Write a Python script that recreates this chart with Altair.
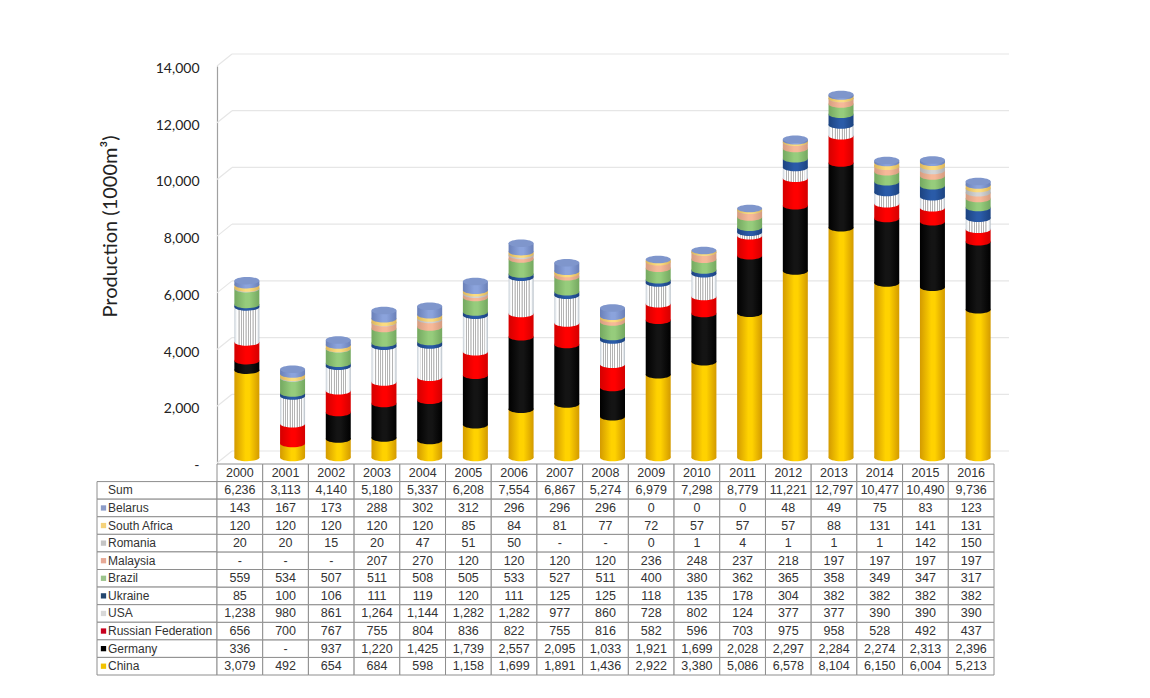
import altair as alt
import pandas as pd

years = [str(y) for y in range(2000, 2017)]
china = [3079, 492, 654, 684, 598, 1158, 1699, 1891, 1436, 2922, 3380, 5086, 6578, 8104, 6150, 6004, 5213]
germany = [336, None, 937, 1220, 1425, 1739, 2557, 2095, 1033, 1921, 1699, 2028, 2297, 2284, 2274, 2313, 2396]
russia = [656, 700, 767, 755, 804, 836, 822, 755, 816, 582, 596, 703, 975, 958, 528, 492, 437]
usa = [1238, 980, 861, 1264, 1144, 1282, 1282, 977, 860, 728, 802, 124, 377, 377, 390, 390, 390]
ukraine = [85, 100, 106, 111, 119, 120, 111, 125, 125, 118, 135, 178, 304, 382, 382, 382, 382]
brazil = [559, 534, 507, 511, 508, 505, 533, 527, 511, 400, 380, 362, 365, 358, 349, 347, 317]
malaysia = [None, None, None, 207, 270, 120, 120, 120, 120, 236, 248, 237, 218, 197, 197, 197, 197]
romania = [20, 20, 15, 20, 47, 51, 50, None, None, 0, 1, 4, 1, 1, 1, 142, 150]
south_africa = [120, 120, 120, 120, 120, 85, 84, 81, 77, 72, 57, 57, 57, 88, 131, 141, 131]
belarus = [143, 167, 173, 288, 302, 312, 296, 296, 296, 0, 0, 0, 48, 49, 75, 83, 123]
totals = [6236, 3113, 4140, 5180, 5337, 6208, 7554, 6867, 5274, 6979, 7298, 8779, 11221, 12797, 10477, 10490, 9736]

stack_order = ["China", "Germany", "Russian Federation", "USA", "Ukraine", "Brazil",
               "Malaysia", "Romania", "South Africa", "Belarus"]
series = dict(zip(stack_order, [china, germany, russia, usa, ukraine, brazil,
                                malaysia, romania, south_africa, belarus]))
# edge colour, centre colour
shades = {
    "China": ("#d39a00", "#ffd200"),
    "Germany": ("#000000", "#141414"),
    "Russian Federation": ("#d40000", "#ff0000"),
    "USA": ("#b8b8b8", "#ffffff"),
    "Ukraine": ("#1c4380", "#2a5ba8"),
    "Brazil": ("#74a860", "#96cc7c"),
    "Malaysia": ("#d59c80", "#f6b898"),
    "Romania": ("#b0b0b0", "#d4d4d4"),
    "South Africa": ("#dcb55a", "#fbdc80"),
    "Belarus": ("#6a80b8", "#8ba3dc"),
}
swatches = {"China": "#f2c200", "Germany": "#000000", "Russian Federation": "#c8001e", "USA": "#d8d8d8",
            "Ukraine": "#23466e", "Brazil": "#9bc48c", "Malaysia": "#e6a996", "Romania": "#c4c4c4",
            "South Africa": "#f5d27a", "Belarus": "#8c9cc8"}

ELLIPSE = "M -1 0 A 1 0.3 0 1 0 1 0 A 1 0.3 0 1 0 -1 0 Z"
BAR_W = 25
DX, DY = 7, -5.5
W, H = 777, 397


def cyl(edge, mid):
    return alt.Gradient(gradient="linear", x1=0, x2=1, y1=0, y2=0, stops=[
        alt.GradientStop(color=edge, offset=0), alt.GradientStop(color=mid, offset=0.45),
        alt.GradientStop(color=mid, offset=0.6), alt.GradientStop(color=edge, offset=1)])


def stripes():
    stops = [alt.GradientStop(color="#c3ccd4", offset=0), alt.GradientStop(color="#f4f6f8", offset=0.08)]
    n = 12
    for i in range(1, n):
        a = 0.08 + 0.84 * i / n
        stops += [alt.GradientStop(color="#ffffff", offset=a - 0.02), alt.GradientStop(color="#b4b4b4", offset=a - 0.012),
                  alt.GradientStop(color="#b4b4b4", offset=a + 0.012), alt.GradientStop(color="#ffffff", offset=a + 0.02)]
    stops += [alt.GradientStop(color="#f4f6f8", offset=0.92), alt.GradientStop(color="#b0bac3", offset=1)]
    return alt.Gradient(gradient="linear", x1=0, x2=1, y1=0, y2=0, stops=stops)


xs = alt.X("year:N", scale=alt.Scale(domain=years, paddingInner=0, paddingOuter=0), axis=None)
yscale = alt.Scale(domain=[0, 14000], nice=False)

layers = []
# wall grid
ticks = pd.DataFrame({"v": list(range(0, 14001, 2000))})
grid = "#e6e6e6"
layers.append(alt.Chart(ticks).mark_rule(color=grid, strokeWidth=1.2, yOffset=-12, y2Offset=-12).encode(
    x=alt.value(15), x2=alt.value(W + 15),
    y=alt.Y("v:Q", scale=yscale, axis=alt.Axis(
        title="Production (1000m³)", titleFont="Lato", titleFontSize=20, titleFontWeight="normal", titleColor="#222",
        titleX=-97, titleY=160, labelFont="Lato", labelFontSize=14, labelColor="#222", labelPadding=18,
        labelOffset=2.5, tickSize=0, grid=False, domainColor="#a0a0a0", domainWidth=1.2,
        values=list(range(0, 14001, 2000)),
        labelExpr="datum.value === 0 ? '-' : format(datum.value, ',')"))))
layers.append(alt.Chart(ticks).mark_rule(color=grid, strokeWidth=1.2, y2Offset=-12).encode(
    x=alt.value(0), x2=alt.value(15), y=alt.Y("v:Q", scale=yscale), y2="v:Q"))

base = [0] * len(years)
for name in stack_order:
    vals = [v or 0 for v in series[name]]
    top = [b + v for b, v in zip(base, vals)]
    df = pd.DataFrame({"year": years, "y0": base, "y1": top, "v": vals})
    df = df[df.v > 0]
    fill = stripes() if name == "USA" else cyl(*shades[name])
    layers.append(alt.Chart(df).mark_bar(fill=fill, size=BAR_W, xOffset=DX, x2Offset=DX,
                                         yOffset=DY, y2Offset=DY).encode(
        x=xs, y=alt.Y("y0:Q", scale=yscale), y2="y1:Q"))
    layers.append(alt.Chart(df).mark_point(shape=ELLIPSE, filled=True, fill=fill, opacity=1, strokeWidth=0,
                                           size=BAR_W ** 2, xOffset=DX, yOffset=DY).encode(
        x=xs, y=alt.Y("y0:Q", scale=yscale)))
    base = top

caps = pd.DataFrame({"year": years, "y1": base})
layers.append(alt.Chart(caps).mark_point(shape=ELLIPSE, filled=True, fill="#7f96cc", opacity=1, strokeWidth=0,
                                         size=BAR_W ** 2, xOffset=DX, yOffset=DY).encode(
    x=xs, y=alt.Y("y1:Q", scale=yscale)))

main = alt.layer(*layers).properties(width=W, height=H)

# table
row_order = ["header", "Sum"] + stack_order[::-1]
cells = []
for i, y in enumerate(years):
    cells.append({"year": y, "row": "header", "t": y})
    cells.append({"year": y, "row": "Sum", "t": f"{totals[i]:,}"})
    for name in stack_order:
        v = series[name][i]
        cells.append({"year": y, "row": name, "t": "-" if v is None else f"{v:,}"})
cells = pd.DataFrame(cells)
heads = pd.DataFrame({"row": row_order[1:], "label": row_order[1:]})
swatch_df = pd.DataFrame({"row": stack_order, "c": [swatches[n] for n in stack_order]})

line = "#8e8e8e"
txs = alt.X("year:N", scale=alt.Scale(domain=years, paddingInner=0, paddingOuter=0), axis=None)
tys = alt.Y("row:N", scale=alt.Scale(domain=row_order, paddingInner=0, paddingOuter=0), axis=None)
TF = "Liberation Sans"
table = alt.layer(
    alt.Chart(heads).mark_rect(fill="white", stroke=line, strokeWidth=1).encode(
        x=alt.value(-120), x2=alt.value(0), y=tys),
    alt.Chart(cells).mark_rect(fill="white", stroke=line, strokeWidth=1).encode(x=txs, y=tys),
    alt.Chart(cells).mark_text(font=TF, fontSize=12.5, color="#333").encode(x=txs, y=tys, text="t:N"),
    alt.Chart(heads).mark_text(font=TF, fontSize=12, color="#333", align="left").encode(
        x=alt.value(-109), y=tys, text="label:N"),
    alt.Chart(swatch_df).mark_point(shape="square", filled=True, size=28, opacity=1, strokeWidth=0).encode(
        x=alt.value(-113.5), y=tys,
        fill=alt.Fill("c:N", scale=None)),
).properties(width=W, height=211)

chart = alt.vconcat(main, table, spacing=1, bounds="flush").properties(
    padding={"left": 88, "top": 45, "right": 5, "bottom": 5}, background="white"
).configure_view(stroke=None)

chart.save("out.html", embed_options={"renderer": "svg", "actions": False})
